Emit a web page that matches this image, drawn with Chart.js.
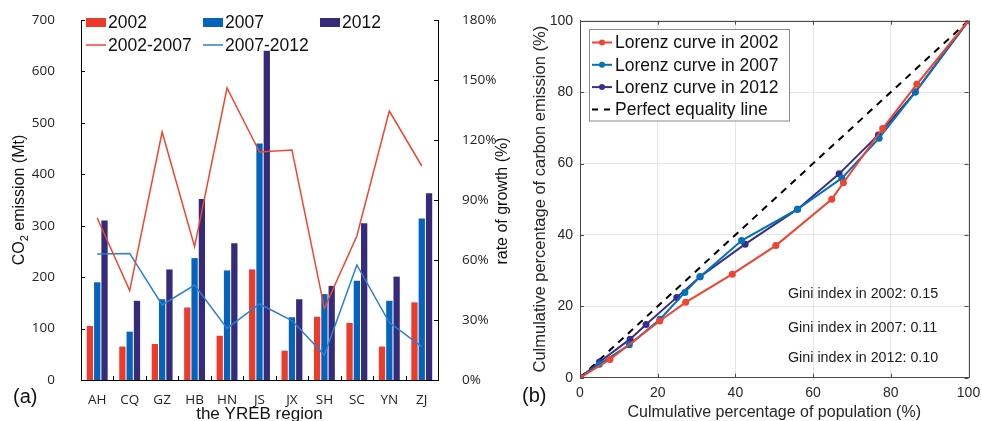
<!DOCTYPE html>
<html><head><meta charset="utf-8">
<script src="https://cdn.jsdelivr.net/npm/chart.js@4.4.1/dist/chart.umd.min.js"></script>
<style>
html,body{margin:0;padding:0;background:#fff;}
body{width:982px;height:421px;position:relative;overflow:hidden;}
#ca{position:absolute;left:0;top:0;}
#cb{position:absolute;left:510px;top:0;}
</style></head><body>
<canvas id="ca" width="525" height="421"></canvas>
<canvas id="cb" width="472" height="421"></canvas>
<script>
// ---------- Panel (a) data ----------
const categories = ['AH','CQ','GZ','HB','HN','JS','JX','SH','SC','YN','ZJ'];
const emission2002 = [105, 65, 70, 141, 86, 215, 57, 123, 111, 65, 151];
const emission2007 = [190, 94, 157, 237, 213, 460, 122, 167, 193, 154, 314];
const emission2012 = [310, 154, 215, 352, 266, 640, 157, 183, 305, 201, 363];
const growth2002_2007 = [81, 44.7, 124, 66.7, 146, 114, 115, 35.8, 72, 134.5, 107];
const growth2007_2012 = [63, 63.3, 37.5, 47.5, 25.8, 38, 29.7, 12.5, 57.5, 28.7, 16.7];
const leftAxisTicks = [0, 100, 200, 300, 400, 500, 600, 700];
const rightAxisTicks = [0, 30, 60, 90, 120, 150, 180];

// ---------- Panel (b) data ----------
const pop2002 = [0, 7.7, 20.5, 27.2, 39.2, 50.4, 64.8, 67.8, 77.9, 86.7, 100];
const cum2002 = [0, 5.1, 15.9, 21.1, 29.0, 37.0, 50.0, 54.6, 69.8, 82.2, 100];
const pop2007 = [0, 5.0, 12.7, 20.6, 27.0, 30.9, 41.6, 56.0, 67.4, 77.0, 86.3, 100];
const cum2007 = [0, 3.8, 9.2, 16.4, 23.9, 28.3, 38.4, 47.2, 55.9, 67.1, 80.0, 100];
const pop2012 = [0, 5.0, 12.9, 17.0, 24.9, 30.9, 42.5, 56.0, 66.7, 76.8, 86.3, 100];
const cum2012 = [0, 4.4, 10.8, 14.9, 22.5, 28.3, 37.4, 47.2, 57.1, 68.0, 80.0, 100];
const equalityX = [0, 100];
const equalityY = [0, 100];
const lorenzTicks = [0, 20, 40, 60, 80, 100];
const giniLabels = ['Gini index in 2002: 0.15', 'Gini index in 2007: 0.11', 'Gini index in 2012: 0.10'];
const lorenzNames = ['Lorenz curve in 2002', 'Lorenz curve in 2007', 'Lorenz curve in 2012', 'Perfect equality line'];

const ARIAL = '"Liberation Sans", Arial, sans-serif';
const OPEN = '"Open Sans", sans-serif';
const RED = '#ec3b2b', BLUE = '#0563bb', PURPLE = '#352b7a';
const LRED = '#f0462f', LBLUE = '#2a7fd2';
const BRED = '#f2432e', BBLUE = '#0072bd', BPURPLE = '#3a2f88';

function pts(xs, ys){ return xs.map((v,i)=>({x:v, y:ys[i]})); }
function noPad(s){ s.paddingTop = 0; s.paddingBottom = 0; s.paddingLeft = 0; s.paddingRight = 0; }

// ---------- Panel (a) plugin ----------
const plugA = {
  id:'plugA',
  afterDraw(chart){
    const {ctx, chartArea:ca, scales:{x,y,y1}} = chart;
    ctx.save();
    ctx.strokeStyle='#000'; ctx.lineWidth=1;
    ctx.beginPath();
    y.ticks.forEach(t=>{const p=Math.round(y.getPixelForValue(t.value))+0.5; ctx.moveTo(ca.left,p); ctx.lineTo(ca.left+4,p);});
    y1.ticks.forEach(t=>{const p=Math.round(y1.getPixelForValue(t.value))+0.5; ctx.moveTo(ca.right,p); ctx.lineTo(ca.right-4,p);});
    for(let i=1;i<categories.length;i++){
      const p=Math.round((x.getPixelForValue(i-1)+x.getPixelForValue(i))/2)+0.5;
      ctx.moveTo(p,ca.bottom); ctx.lineTo(p,ca.bottom-4);
    }
    ctx.stroke();

    // legend
    const L = ca.left, r1 = ca.top + 2.5, r2 = ca.top + 25;
    ctx.font = '17.5px ' + ARIAL;
    ctx.textBaseline = 'middle'; ctx.textAlign = 'left';
    const boxes = [[RED,'2002',5],[BLUE,'2007',122],[PURPLE,'2012',239]];
    boxes.forEach(([c,t,dx])=>{
      ctx.fillStyle = c; ctx.fillRect(L+dx, r1-4.5, 20, 9);
      ctx.fillStyle = '#111'; ctx.fillText(t, L+dx+22, r1+1);
    });
    const lines = [[LRED,'2002-2007',5],[LBLUE,'2007-2012',122]];
    lines.forEach(([c,t,dx])=>{
      ctx.strokeStyle = c; ctx.lineWidth = 1.5;
      ctx.beginPath(); ctx.moveTo(L+dx, r2); ctx.lineTo(L+dx+20, r2); ctx.stroke();
      ctx.fillStyle = '#111'; ctx.fillText(t, L+dx+22, r2+1);
    });

    // left title with subscript
    ctx.save();
    ctx.translate(20, 200); ctx.rotate(-Math.PI/2);
    const f1 = '16px ' + ARIAL, f2 = '11px ' + ARIAL;
    ctx.font = f1; const w1 = ctx.measureText('CO').width, w3 = ctx.measureText(' emission (Mt)').width;
    ctx.font = f2; const w2 = ctx.measureText('2').width;
    let sx = -(w1+w2+w3)/2;
    ctx.fillStyle = '#111'; ctx.textAlign='left'; ctx.textBaseline='middle';
    ctx.font = f1; ctx.fillText('CO', sx, 0);
    ctx.font = f2; ctx.fillText('2', sx+w1, 5);
    ctx.font = f1; ctx.fillText(' emission (Mt)', sx+w1+w2, 0);
    ctx.restore();

    // right title
    ctx.save();
    ctx.translate(503, 201); ctx.rotate(-Math.PI/2);
    ctx.font = '16px ' + ARIAL; ctx.fillStyle = '#111'; ctx.textAlign='center'; ctx.textBaseline='middle';
    ctx.fillText('rate of growth (%)', 0, 0);
    ctx.restore();

    // panel label
    ctx.font = '20px ' + ARIAL; ctx.fillStyle = '#111'; ctx.textAlign='left'; ctx.textBaseline='middle';
    ctx.fillText('(a)', 13, 397);
    ctx.restore();
  }
};

new Chart(document.getElementById('ca'), {
  type:'bar',
  data:{
    labels: categories,
    datasets:[
      {label:'2002', data:emission2002, backgroundColor:RED, yAxisID:'y', order:2, categoryPercentage:0.675, barPercentage:0.86},
      {label:'2007', data:emission2007, backgroundColor:BLUE, yAxisID:'y', order:2, categoryPercentage:0.675, barPercentage:0.86},
      {label:'2012', data:emission2012, backgroundColor:PURPLE, yAxisID:'y', order:2, categoryPercentage:0.675, barPercentage:0.86},
      {type:'line', label:'2002-2007', data:growth2002_2007, borderColor:LRED, borderWidth:1.5, pointRadius:0, tension:0, fill:false, yAxisID:'y1', order:1},
      {type:'line', label:'2007-2012', data:growth2007_2012, borderColor:LBLUE, borderWidth:1.5, pointRadius:0, tension:0, fill:false, yAxisID:'y1', order:1}
    ]
  },
  options:{
    responsive:false, animation:false,
    layout:{padding:{top:20, left:0, right:0, bottom:0}},
    plugins:{legend:{display:false}, tooltip:{enabled:false}},
    scales:{
      x:{
        grid:{display:false}, border:{display:true, color:'#000', width:1},
        ticks:{font:{family:OPEN, size:13.5}, color:'#222', padding:4, maxRotation:0},
        title:{display:true, text:'the YREB region', font:{family:ARIAL, size:17, lineHeight:1}, color:'#111', padding:{top:0,bottom:-1.5}},
        afterFit(s){ s.height = 41; noPad(s); }
      },
      y:{
        position:'left', min:0, max:700,
        afterBuildTicks(s){ s.ticks = leftAxisTicks.map(v=>({value:v})); },
        grid:{display:false}, border:{display:true, color:'#000', width:1},
        ticks:{font:{family:OPEN, size:13.5}, color:'#222', padding:18},
        afterFit(s){ s.width = 81; noPad(s); }
      },
      y1:{
        position:'right', min:0, max:180,
        afterBuildTicks(s){ s.ticks = rightAxisTicks.map(v=>({value:v})); },
        grid:{display:false}, border:{display:true, color:'#000', width:1},
        ticks:{font:{family:OPEN, size:13.5}, color:'#222', padding:16, callback:v=>v+'%'},
        afterFit(s){ s.width = 87; noPad(s); }
      }
    }
  },
  plugins:[plugA]
});

// ---------- Panel (b) plugin (page coordinates, canvas offset 510) ----------
const OFF = 510;
const plugB = {
  id:'plugB',
  afterDraw(chart){
    const {ctx, chartArea:ca, scales:{x,y}} = chart;
    ctx.save();
    // box + inward ticks
    ctx.strokeStyle = '#4a4a4a'; ctx.lineWidth = 1;
    ctx.beginPath();
    ctx.moveTo(ca.left, Math.round(ca.top)+0.5); ctx.lineTo(ca.right, Math.round(ca.top)+0.5);
    ctx.moveTo(Math.round(ca.right)+0.5, ca.top); ctx.lineTo(Math.round(ca.right)+0.5, ca.bottom);
    lorenzTicks.forEach(v=>{
      const px = Math.round(x.getPixelForValue(v))+0.5;
      ctx.moveTo(px, ca.bottom); ctx.lineTo(px, ca.bottom-4);
      ctx.moveTo(px, ca.top); ctx.lineTo(px, ca.top+4);
      const py = Math.round(y.getPixelForValue(v))+0.5;
      ctx.moveTo(ca.left, py); ctx.lineTo(ca.left+4, py);
      ctx.moveTo(ca.right, py); ctx.lineTo(ca.right-4, py);
    });
    ctx.stroke();

    // legend (page coords -> canvas coords)
    const lx = 589 - OFF, ly = 29, lw = 200, lh = 91.5;
    ctx.fillStyle = '#fff'; ctx.fillRect(lx, ly, lw, lh);
    ctx.strokeStyle = '#8a8a8a'; ctx.lineWidth = 1;
    ctx.strokeRect(lx+0.5, ly+0.5, lw, lh);
    const cols = [BRED, BBLUE, BPURPLE];
    ctx.font = '17.5px ' + ARIAL; ctx.textAlign = 'left'; ctx.textBaseline = 'middle';
    for(let i=0;i<4;i++){
      const ry = 42.5 + i*22.3;
      if(i<3){
        ctx.strokeStyle = cols[i]; ctx.lineWidth = 2;
        ctx.beginPath(); ctx.moveTo(lx+3, ry); ctx.lineTo(lx+23, ry); ctx.stroke();
        ctx.fillStyle = cols[i]; ctx.beginPath(); ctx.arc(lx+13, ry, 3, 0, Math.PI*2); ctx.fill();
      } else {
        ctx.strokeStyle = '#000'; ctx.lineWidth = 2;
        ctx.beginPath(); ctx.moveTo(lx+3, ry); ctx.lineTo(lx+9, ry); ctx.moveTo(lx+15, ry); ctx.lineTo(lx+21, ry); ctx.stroke();
      }
      ctx.fillStyle = '#111'; ctx.fillText(lorenzNames[i], lx+26, ry+1);
    }
    // gini
    ctx.font = '14.3px ' + ARIAL; ctx.fillStyle = '#1a1a1a';
    const gy = [294.3, 327.7, 357.7];
    giniLabels.forEach((t,i)=>ctx.fillText(t, 788 - OFF, gy[i]));
    // panel label
    ctx.font = '20px ' + ARIAL; ctx.fillStyle = '#111';
    ctx.fillText('(b)', 522 - OFF, 396);
    ctx.restore();
  }
};

new Chart(document.getElementById('cb'), {
  type:'scatter',
  data:{
    datasets:[
      {label:lorenzNames[0], data:pts(pop2002,cum2002), showLine:true, borderColor:BRED, backgroundColor:BRED, borderWidth:2, pointRadius:3.5, pointBorderWidth:0, tension:0},
      {label:lorenzNames[1], data:pts(pop2007,cum2007), showLine:true, borderColor:BBLUE, backgroundColor:BBLUE, borderWidth:2, pointRadius:3.5, pointBorderWidth:0, tension:0},
      {label:lorenzNames[2], data:pts(pop2012,cum2012), showLine:true, borderColor:BPURPLE, backgroundColor:BPURPLE, borderWidth:2, pointRadius:3.5, pointBorderWidth:0, tension:0},
      {label:lorenzNames[3], data:pts(equalityX,equalityY), showLine:true, borderColor:'#000', borderWidth:2, borderDash:[7,6], pointRadius:0, tension:0}
    ]
  },
  options:{
    responsive:false, animation:false,
    layout:{padding:{top:20.7, left:0, right:13.5, bottom:0}},
    plugins:{legend:{display:false}, tooltip:{enabled:false}},
    scales:{
      x:{
        type:'linear', min:0, max:100,
        afterBuildTicks(s){ s.ticks = lorenzTicks.map(v=>({value:v})); },
        grid:{color:'#e6e6e6', drawTicks:false}, border:{display:true, color:'#4a4a4a', width:1},
        ticks:{font:{family:ARIAL, size:14}, color:'#262626', padding:7},
        title:{display:true, text:'Culmulative percentage of population (%)', font:{family:ARIAL, size:16, lineHeight:1}, color:'#262626', padding:{top:0,bottom:0}},
        afterFit(s){ s.height = 43.3; noPad(s); }
      },
      y:{
        type:'linear', min:0, max:100,
        afterBuildTicks(s){ s.ticks = lorenzTicks.map(v=>({value:v})); },
        grid:{color:'#e6e6e6', drawTicks:false}, border:{display:true, color:'#4a4a4a', width:1},
        ticks:{font:{family:ARIAL, size:14}, color:'#262626', padding:7},
        title:{display:true, text:'Culmulative percentage of carbon emission (%)', font:{family:ARIAL, size:16.5, lineHeight:1}, color:'#262626', padding:{top:21.75,bottom:0}},
        afterFit(s){ s.width = 70; noPad(s); }
      }
    }
  },
  plugins:[plugB]
});
</script>
</body></html>
